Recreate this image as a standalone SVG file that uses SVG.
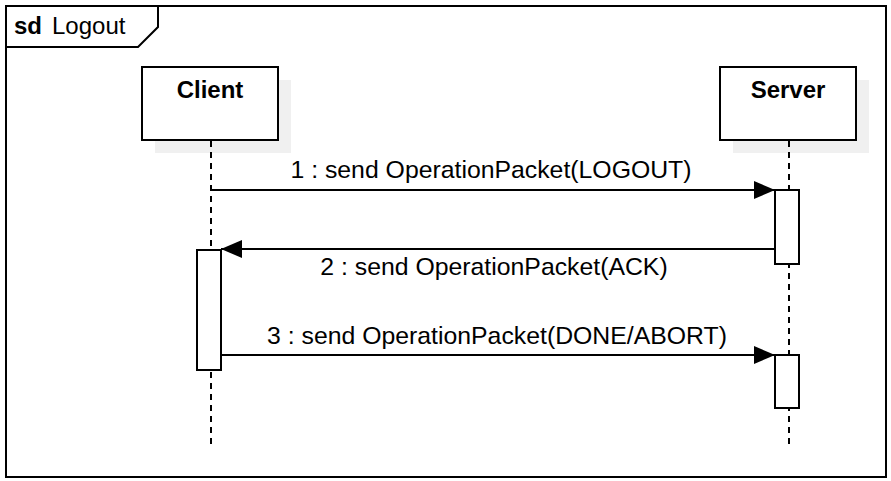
<svg xmlns="http://www.w3.org/2000/svg" width="891" height="481" viewBox="0 0 891 481">
<style>
text{font-family:"Liberation Sans",Arial,sans-serif;font-size:24px;fill:#000}
.b{font-weight:bold}
.m{font-size:24.8px}
.box{fill:#fff;stroke:#000;stroke-width:2}
.sh{fill:#f0f0f0}
.life{stroke:#000;stroke-width:2;stroke-dasharray:6 5;fill:none}
.msg{stroke:#000;stroke-width:2;fill:none}
</style>
<defs>
<marker id="arr" markerUnits="userSpaceOnUse" markerWidth="22" markerHeight="18" refX="21" refY="9" orient="auto">
<path d="M0,0 L21,9 L0,18 Z" fill="#000"/>
</marker>
</defs>
<rect width="891" height="481" fill="#fff"/>
<g id="frame">
<rect x="6" y="6" width="880" height="471" fill="none" stroke="#000" stroke-width="2"/>
<path d="M6,47 L138,47 L158,27 L158,6" fill="none" stroke="#000" stroke-width="2"/>
<text x="14" y="34" class="b">sd</text>
<text x="52" y="34">Logout</text>
</g>
<g id="client">
<rect class="sh" x="155" y="80" width="136" height="73"/>
<rect class="box" x="142" y="67" width="136" height="73"/>
<text x="210" y="98" class="b" text-anchor="middle">Client</text>
</g>
<g id="server">
<rect class="sh" x="733" y="80" width="136" height="73"/>
<rect class="box" x="720" y="67" width="136" height="73"/>
<text x="788" y="98" class="b" text-anchor="middle">Server</text>
</g>
<g id="lifelines">
<line class="life" x1="211" y1="141" x2="211" y2="445"/>
<line class="life" x1="789" y1="141" x2="789" y2="445"/>
</g>
<g id="activations">
<rect id="act-client" class="box" x="197" y="250" width="24" height="120"/>
<rect id="act-server-1" class="box" x="775" y="190" width="24" height="74"/>
<rect id="act-server-2" class="box" x="775" y="355" width="24" height="53"/>
</g>
<g id="connectors">
<line class="msg" x1="211" y1="190" x2="775" y2="190" marker-end="url(#arr)"/>
<line class="msg" x1="775" y1="249" x2="221" y2="249" marker-end="url(#arr)"/>
<line class="msg" x1="221" y1="355" x2="775" y2="355" marker-end="url(#arr)"/>
</g>
<g id="labels">
<text x="491" y="178" class="m" text-anchor="middle">1 : send OperationPacket(LOGOUT)</text>
<text x="494" y="275" class="m" text-anchor="middle">2 : send OperationPacket(ACK)</text>
<text x="497" y="344" class="m" text-anchor="middle">3 : send OperationPacket(DONE/ABORT)</text>
</g>
</svg>
